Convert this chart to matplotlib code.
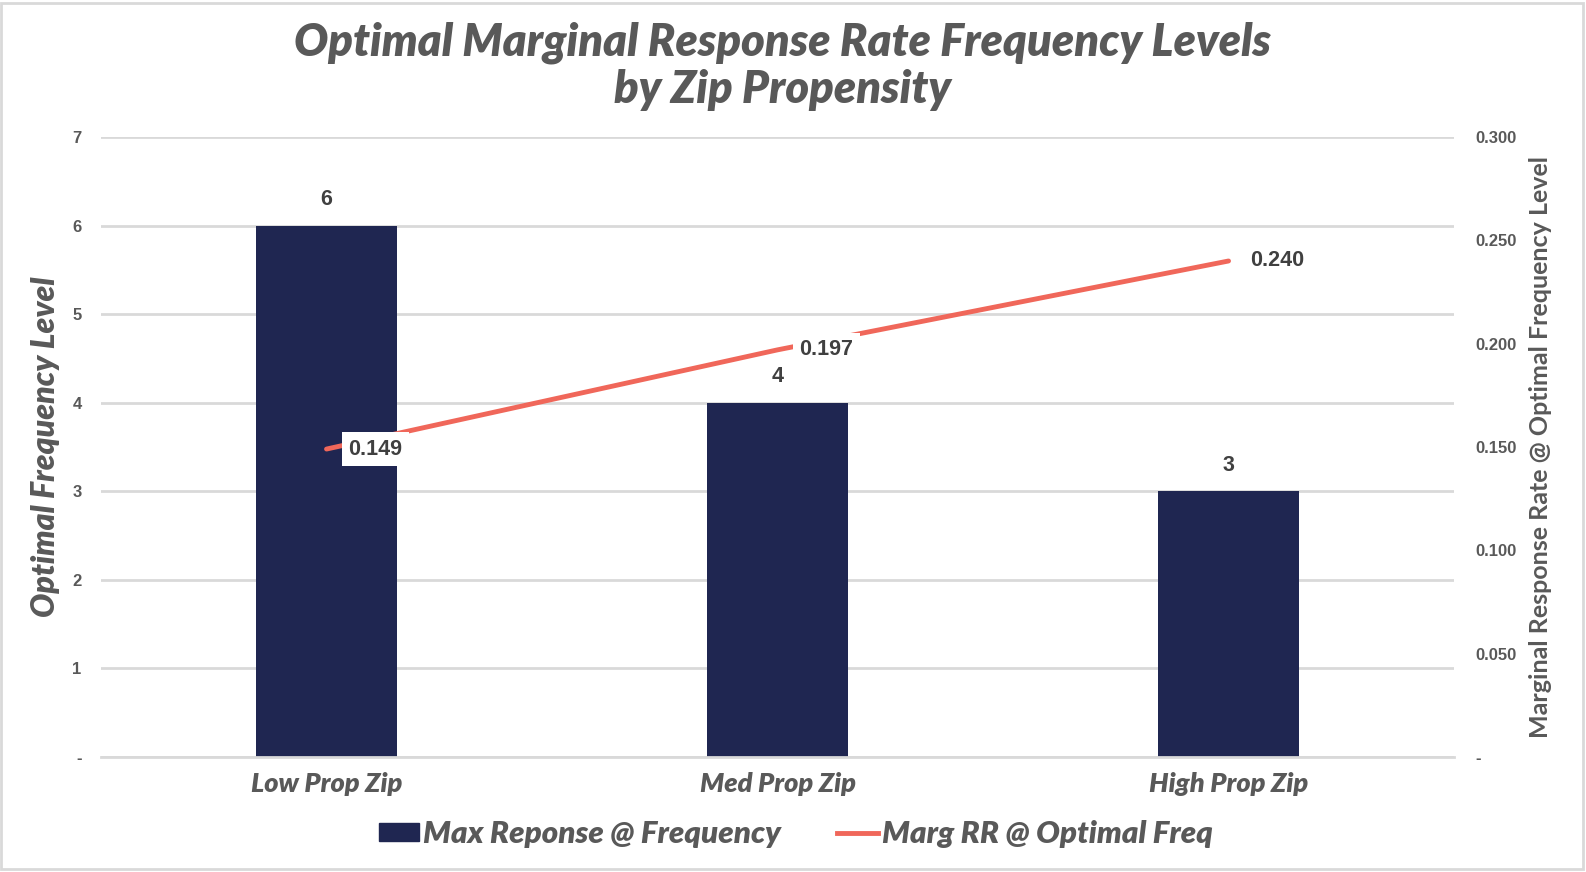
import matplotlib
matplotlib.use("Agg")
import matplotlib.pyplot as plt
from matplotlib.patches import Rectangle, Patch
from matplotlib.lines import Line2D
from matplotlib.ticker import FuncFormatter

categories = ["Low Prop Zip", "Med Prop Zip", "High Prop Zip"]
max_response_freq = [6, 4, 3]
marg_rr = [0.149, 0.197, 0.240]
left_ticks = [0, 1, 2, 3, 4, 5, 6, 7]
right_ticks = [0, 0.05, 0.10, 0.15, 0.20, 0.25, 0.30]
series_names = ["Max Reponse @ Frequency", "Marg RR @ Optimal Freq"]

BAR = "#1F2651"
LINE = "#F0675A"
GREY = "#595959"
DARK = "#404040"
GRID = "#D9D9D9"
FONT = ["Lato", "DejaVu Sans"]
NUMF = ["Liberation Sans", "DejaVu Sans"]

fig = plt.figure(figsize=(15.86, 8.72), dpi=100)
fig.patches.append(Rectangle((0.0008, 0.003), 0.9975, 0.994, transform=fig.transFigure,
                             fill=False, edgecolor="#D9D9D9", lw=2))
ax = fig.add_axes([0.0637, 0.1319, 0.8531, 0.711])
ax2 = ax.twinx()
ax.set_zorder(1); ax2.set_zorder(2); ax.patch.set_visible(False)

x = list(range(len(categories)))
ax.bar(x, max_response_freq, width=0.313, color=BAR, zorder=2)
ax.set_xlim(-0.5, 2.5)
ax.set_ylim(0, 7)
ax.set_yticks(left_ticks)
ax.yaxis.set_major_formatter(FuncFormatter(lambda v, p: "-" if v == 0 else f"{int(v)}"))
ax.grid(axis="y", color=GRID, lw=2, zorder=0)
for s in ["top", "left", "right"]:
    ax.spines[s].set_visible(False)
ax.spines["bottom"].set_color(GRID); ax.spines["bottom"].set_linewidth(2)
ax.tick_params(axis="y", length=0, pad=14, labelsize=12, labelcolor=GREY)
ax.tick_params(axis="x", length=0, pad=11)
for t in ax.get_yticklabels():
    t.set_fontweight("bold"); t.set_family(NUMF)
ax.set_xticks(x)
ax.set_xticklabels(categories, fontsize=19.5, fontweight="heavy", style="italic",
                   color=GREY, family=FONT)
ax.set_ylabel("Optimal Frequency Level", fontsize=23, fontweight="heavy", style="italic",
              color=GREY, family=FONT, labelpad=9)
for xi, v in zip(x, max_response_freq):
    ax.annotate(f"{v}", (xi, v), xytext=(0, 11), textcoords="offset points",
                ha="center", va="bottom", fontsize=15.5, fontweight="bold", color=DARK, family=NUMF)

ax2.plot(x, marg_rr, color=LINE, lw=3.5, solid_capstyle="round", zorder=3)
ax2.set_ylim(0, 0.3)
ax2.set_yticks(right_ticks)
ax2.yaxis.set_major_formatter(FuncFormatter(lambda v, p: "-" if v == 0 else f"{v:.3f}"))
for s in ["top", "left", "right", "bottom"]:
    ax2.spines[s].set_visible(False)
ax2.tick_params(axis="y", length=0, pad=15, labelsize=12, labelcolor=GREY)
for t in ax2.get_yticklabels():
    t.set_fontweight("bold"); t.set_family(NUMF)
ax2.set_ylabel("Marginal Response Rate @ Optimal Frequency Level", fontsize=18,
               fontweight="bold", color=GREY, family=FONT, labelpad=9)

for xi, v in zip(x, marg_rr):
    ax2.annotate(f"{v:.3f}", (xi, v), xytext=(15.5, 0), textcoords="offset points",
                 ha="left", va="center", fontsize=15.5, fontweight="bold", color=DARK, family=NUMF,
                 bbox=dict(boxstyle="square,pad=0.3", fc="white", ec="none"), zorder=4)

fig.text(0.4935, 0.924, "Optimal Marginal Response Rate Frequency Levels\nby Zip Propensity",
         ha="center", va="center", fontsize=32.5, fontweight="heavy", style="italic",
         color=GREY, family=FONT, linespacing=1.17)

handles = [Patch(color=BAR), Line2D([0], [0], color=LINE, lw=3.5)]
leg = fig.legend(handles, series_names, loc="center", bbox_to_anchor=(0.5016, 0.0436), ncol=2,
                 frameon=False, handlelength=1.3, handleheight=0.5, handletextpad=0.12,
                 columnspacing=1.8,
                 prop=dict(family=FONT, weight="heavy", style="italic", size=22.5))
for t in leg.get_texts():
    t.set_color(GREY)

fig.savefig("out.png", dpi=100)
